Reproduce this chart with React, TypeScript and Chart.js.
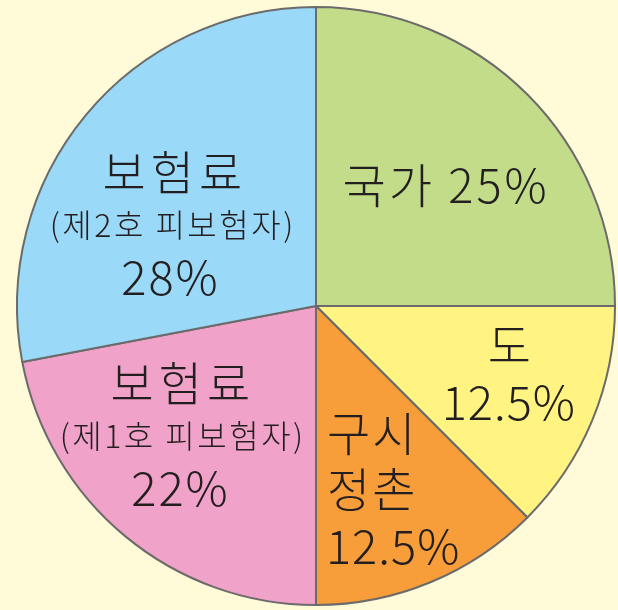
import React, { useEffect, useRef } from "react";
import { Chart, registerables } from "chart.js";

Chart.register(...registerables);

const categories = ["국가", "도", "구시정촌", "보험료 (제1호 피보험자)", "보험료 (제2호 피보험자)"];
const shares = [25, 12.5, 12.5, 22, 28];
const percentLabels = ["25%", "12.5%", "12.5%", "22%", "28%"];
const sliceColors = ["#C2DC8A", "#FFF482", "#F79D3A", "#F1A2C8", "#9AD9F7"];

// label lines per slice (text only)
const labelLines: string[][] = [
  ["국가 " + percentLabels[0]],
  ["도", percentLabels[1]],
  ["구시", "정촌", percentLabels[2]],
  ["보험료", "(제1호 피보험자)", percentLabels[3]],
  ["보험료", "(제2호 피보험자)", percentLabels[4]],
];

// layout: offsets relative to pie centre, in units of a 300px radius
type LineLayout = { dx: number; dy: number; size: number; align: CanvasTextAlign; sp: number };
const labelLayout: LineLayout[][] = [
  [{ dx: 129, dy: -121, size: 47, align: "center", sp: 3 }],
  [
    { dx: 194, dy: 39, size: 47, align: "center", sp: 0 },
    { dx: 193, dy: 96, size: 47, align: "center", sp: 1 },
  ],
  [
    { dx: 11, dy: 128, size: 47, align: "left", sp: 2 },
    { dx: 11, dy: 184, size: 47, align: "left", sp: 2 },
    { dx: 10, dy: 241, size: 47, align: "left", sp: 1 },
  ],
  [
    { dx: -136, dy: 77, size: 47, align: "center", sp: 5 },
    { dx: -135, dy: 130, size: 32, align: "center", sp: 2.5 },
    { dx: -137, dy: 183, size: 47, align: "center", sp: 2 },
  ],
  [
    { dx: -144, dy: -134, size: 47, align: "center", sp: 5 },
    { dx: -145, dy: -81, size: 32, align: "center", sp: 2.5 },
    { dx: -147, dy: -29, size: 47, align: "center", sp: 2 },
  ],
];

const FONT = '"Noto Sans CJK KR", "Noto Sans", sans-serif';

const labelPlugin = {
  id: "sliceLabels",
  afterDatasetsDraw(chart: any) {
    const meta = chart.getDatasetMeta(0);
    const arc = meta.data[0];
    if (!arc) return;
    const cx = arc.x;
    const cy = arc.y;
    const k = arc.outerRadius / 300;
    const ctx = chart.ctx as any;
    ctx.save();
    ctx.fillStyle = "#231F20";
    ctx.textBaseline = "middle";
    labelLines.forEach((lines, i) => {
      lines.forEach((text, j) => {
        const l = labelLayout[i][j];
        ctx.font = `300 ${Math.round(l.size * k)}px ${FONT}`;
        ctx.letterSpacing = `${l.sp}px`;
        ctx.textAlign = l.align;
        const shift = l.align === "center" ? l.sp / 2 : 0;
        ctx.fillText(text, cx + l.dx * k + shift, cy + l.dy * k);
      });
    });
    ctx.letterSpacing = "0px";
    ctx.restore();
  },
};

export default function App() {
  const ref = useRef<HTMLCanvasElement | null>(null);
  useEffect(() => {
    if (!ref.current) return;
    const chart = new Chart(ref.current, {
      type: "pie",
      data: {
        labels: categories,
        datasets: [
          {
            data: shares,
            backgroundColor: sliceColors,
            borderColor: "#6B6B6B",
            borderWidth: 2,
          },
        ],
      },
      options: {
        animation: false,
        responsive: true,
        maintainAspectRatio: false,
        layout: { padding: { left: 16, right: 2, top: 6, bottom: 4 } },
        plugins: {
          legend: { display: false },
          tooltip: { enabled: false },
        },
      },
      plugins: [labelPlugin],
    });
    return () => chart.destroy();
  }, []);
  return (
    <div
      style={{
        position: "fixed",
        left: 0,
        top: 0,
        width: 618,
        height: 610,
        background: "#FFFAD7",
      }}
    >
      <canvas ref={ref} />
    </div>
  );
}
